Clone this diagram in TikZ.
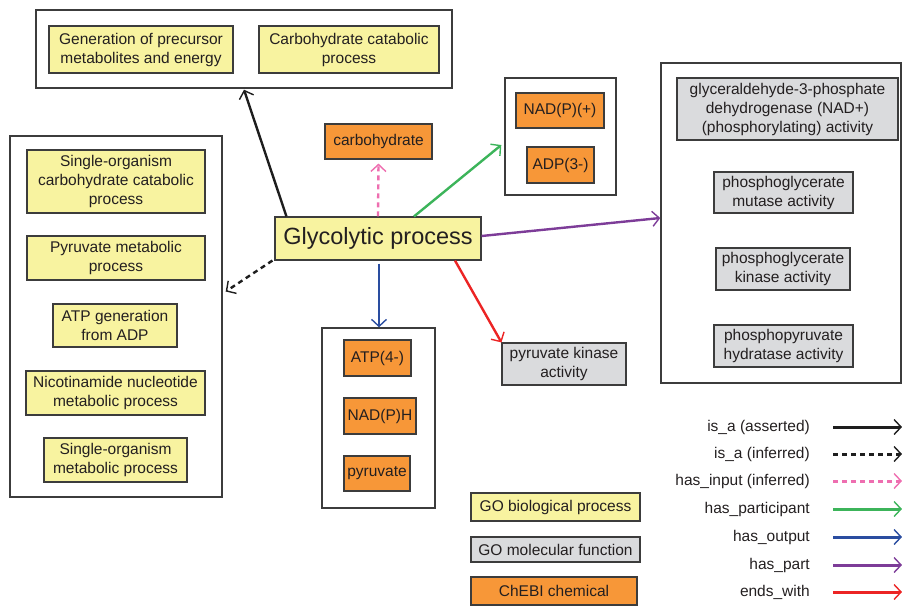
\documentclass[tikz,border=0pt]{standalone}
\usepackage{fontspec}
\setmainfont{Liberation Sans}
\usetikzlibrary{arrows.meta}
\definecolor{goY}{RGB}{248,243,160}
\definecolor{goG}{RGB}{218,219,221}
\definecolor{chO}{RGB}{247,151,56}
\definecolor{bord}{RGB}{60,60,60}
\definecolor{cBlack}{RGB}{30,30,30}
\definecolor{cPink}{RGB}{238,110,176}
\definecolor{cGreen}{RGB}{60,180,90}
\definecolor{cBlue}{RGB}{42,77,160}
\definecolor{cPurple}{RGB}{125,60,152}
\definecolor{cRed}{RGB}{236,36,36}
\definecolor{txt}{RGB}{35,31,32}
\tikzset{
  base/.style={draw=bord, line width=1.1pt, inner sep=0pt, align=center,
    font=\fontsize{15.5}{19}\selectfont, text=txt},
  bp/.style={base, fill=goY},
  mf/.style={base, fill=goG},
  ch/.style={base, fill=chO},
  cont/.style={draw=bord, line width=1.4pt, inner sep=0pt},
  tip/.style={-{Straight Barb[length=7pt,width=15pt,line width=1.4pt]}},
  conn/.style={tip, line width=2.4pt},
  isa/.style={conn, draw=cBlack},
  isainf/.style={conn, draw=cBlack, dash pattern=on 5pt off 4pt},
  hasin/.style={conn, draw=cPink, dash pattern=on 5pt off 4pt},
  haspart/.style={conn, draw=cGreen},
  hasout/.style={conn, draw=cBlue},
  haspt/.style={conn, draw=cPurple},
  ends/.style={conn, draw=cRed},
  legln/.style={line width=3pt},
  leg/.style={font=\fontsize{15.5}{19}\selectfont, text=txt, anchor=east, inner sep=0pt},
}
\begin{document}
\begin{tikzpicture}[x=1pt,y=-1pt]
\useasboundingbox (0,0) rectangle (902,605);
% containers
\node[cont, minimum width=416pt, minimum height=78pt] (topc) at (244,49) {};
\node[cont, minimum width=212pt, minimum height=361pt] (leftc) at (116,316.5) {};
\node[cont, minimum width=111pt, minimum height=117pt] (nadc) at (560.5,136.5) {};
\node[cont, minimum width=240pt, minimum height=320pt] (rc) at (781,223) {};
\node[cont, minimum width=113pt, minimum height=180pt] (atpc) at (378.5,418) {};
% top container
\node[bp, minimum width=184pt, minimum height=47pt] (gen) at (141,49.5) {Generation of precursor\\metabolites and energy};
\node[bp, minimum width=180pt, minimum height=47pt] (cat) at (349,49.5) {Carbohydrate catabolic\\process};
% left container
\node[bp, minimum width=178pt, minimum height=63pt] (so1) at (116,181.5) {Single-organism\\carbohydrate catabolic\\process};
\node[bp, minimum width=178pt, minimum height=44pt] (pyr) at (116,258) {Pyruvate metabolic\\process};
\node[bp, minimum width=124pt, minimum height=43pt] (atpg) at (115,325.5) {ATP generation\\from ADP};
\node[bp, minimum width=179pt, minimum height=44pt] (nic) at (115.5,393) {Nicotinamide nucleotide\\metabolic process};
\node[bp, minimum width=143pt, minimum height=44pt] (so2) at (115.5,460) {Single-organism\\metabolic process};
% center
\node[ch, minimum width=107pt, minimum height=35pt] (carb) at (378.5,141.5) {carbohydrate};
\node[bp, minimum width=206pt, minimum height=43pt, font=\fontsize{23.5}{28}\selectfont] (gly) at (378,238.5) {Glycolytic process};
% NAD container
\node[ch, minimum width=88pt, minimum height=35pt] (nadp) at (560,110.5) {NAD(P)(+)};
\node[ch, minimum width=67pt, minimum height=36pt] (adp) at (560.5,165) {ADP(3-)};
% right container
\node[mf, minimum width=221pt, minimum height=62pt] (g3p) at (787.5,109) {glyceraldehyde-3-phosphate\\dehydrogenase (NAD+)\\(phosphorylating) activity};
\node[mf, minimum width=139pt, minimum height=41pt] (mut) at (783.5,192.5) {phosphoglycerate\\mutase activity};
\node[mf, minimum width=134pt, minimum height=42pt] (kin) at (783,269) {phosphoglycerate\\kinase activity};
\node[mf, minimum width=139pt, minimum height=42pt] (hyd) at (783.5,346) {phosphopyruvate\\hydratase activity};
% ATP container
\node[ch, minimum width=67pt, minimum height=36pt] (atp) at (377.5,358) {ATP(4-)};
\node[ch, minimum width=72pt, minimum height=36pt] (nadh) at (380,416) {NAD(P)H};
\node[ch, minimum width=66pt, minimum height=35pt] (pyv) at (377,473.5) {pyruvate};
% pyruvate kinase
\node[mf, minimum width=124pt, minimum height=42pt] (pk) at (564,364) {pyruvate kinase\\activity};
% connectors
\draw[isa] ([xshift=12pt]gly.north west) -- ([yshift=-1pt]topc.south);
\draw[isainf] ([xshift=-2pt]gly.south west) -- ([xshift=3pt,yshift=25pt]leftc.east);
\draw[hasin] (gly.north) -- ([yshift=-4pt]carb.south);
\draw[haspart] ([xshift=36pt]gly.north) -- ([xshift=-3pt,yshift=-8.5pt]nadc.west);
\draw[haspt] ([yshift=2.5pt]gly.east) -- ([yshift=5pt]rc.west);
\draw[hasout] ([xshift=1pt,yshift=-3pt]gly.south) -- ([xshift=0.5pt]atpc.north);
\draw[ends] ([xshift=77pt]gly.south) -- (pk.north west);
% legend boxes
\node[bp, minimum width=169pt, minimum height=28pt] (lbp) at (555.5,507) {GO biological process};
\node[mf, minimum width=169pt, minimum height=25pt] (lmf) at (555.5,549.5) {GO molecular function};
\node[ch, minimum width=166pt, minimum height=28pt] (lch) at (554,591) {ChEBI chemical};
% legend lines
\node[leg] (l1) at (810,427) {is\_a (asserted)};
\node[leg] (l2) at (810,454) {is\_a (inferred)};
\node[leg] (l3) at (810,481) {has\_input (inferred)};
\node[leg] (l4) at (810,509) {has\_participant};
\node[leg] (l5) at (810,537) {has\_output};
\node[leg] (l6) at (810,565) {has\_part};
\node[leg] (l7) at (810,592) {ends\_with};
\coordinate (e1) at (902,427);
\coordinate (e2) at (902,454);
\coordinate (e3) at (902,481);
\coordinate (e4) at (902,509);
\coordinate (e5) at (902,537);
\coordinate (e6) at (902,565);
\coordinate (e7) at (902,592);
\draw[isa, legln] ([xshift=23pt]l1.east) -- (e1);
\draw[isainf, legln] ([xshift=23pt]l2.east) -- (e2);
\draw[hasin, legln] ([xshift=23pt]l3.east) -- (e3);
\draw[haspart, legln] ([xshift=23pt]l4.east) -- (e4);
\draw[hasout, legln] ([xshift=23pt]l5.east) -- (e5);
\draw[haspt, legln] ([xshift=23pt]l6.east) -- (e6);
\draw[ends, legln] ([xshift=23pt]l7.east) -- (e7);
\end{tikzpicture}
\end{document}
